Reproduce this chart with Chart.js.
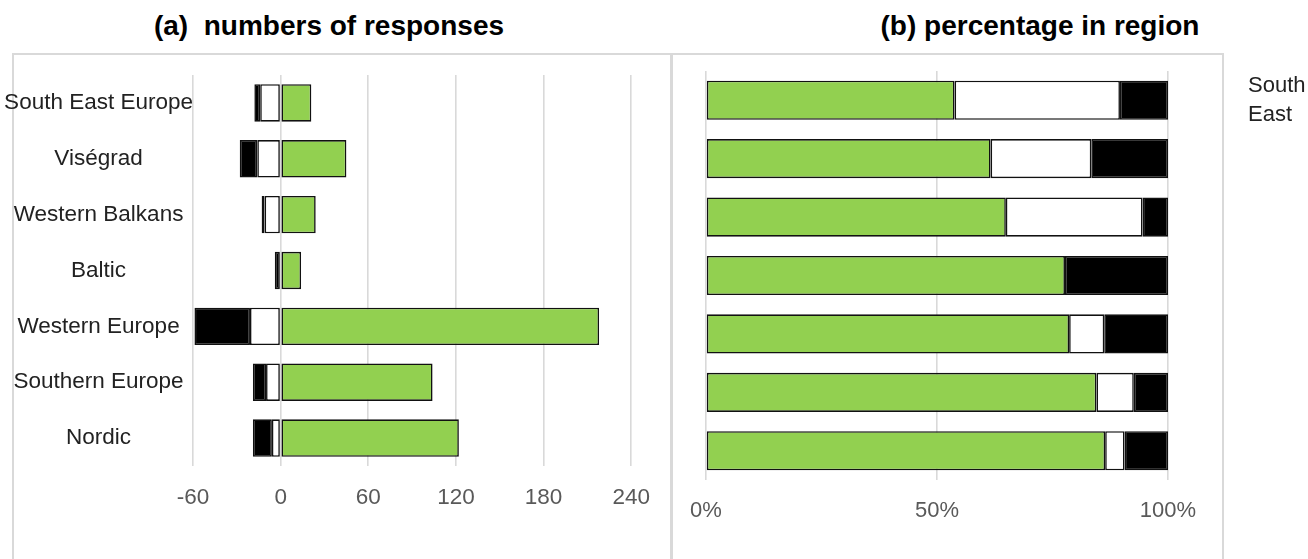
<!DOCTYPE html>
<html>
<head>
<meta charset="utf-8">
<title>Responses by region</title>
<script src="https://cdn.jsdelivr.net/npm/chart.js@4.4.1/dist/chart.umd.min.js"></script>
<style>
  html, body { margin: 0; padding: 0; background: #fff; }
  body { width: 1308px; height: 559px; position: relative; overflow: hidden; font-family: "Liberation Sans", Arial, sans-serif; }
  .box { position: absolute; top: 53px; height: 560px; border: 2px solid #d9d9d9; box-sizing: border-box; }
  .title { position: absolute; top: 12px; font-weight: bold; font-size: 28px; line-height: 28px; text-align: center; white-space: pre; color: #000; }
  .wrap { position: absolute; top: 0; height: 559px; }
</style>
</head>
<body>
  <div class="box" style="left:12px; width:661px;"></div>
  <div class="box" style="left:670px; width:554px;"></div>
  <div class="title" style="left:0; width:658px;">(a)  numbers of responses</div>
  <div class="title" style="left:780px; width:520px;">(b) percentage in region</div>
  <div class="wrap" style="left:0; width:668px;"><canvas id="countChart"></canvas></div>
  <div class="wrap" style="left:672px; width:636px;"><canvas id="pctChart"></canvas></div>

<script>
const regions = ['South East Europe', 'Viségrad', 'Western Balkans', 'Baltic', 'Western Europe', 'Southern Europe', 'Nordic'];

// (a) counts, white/black drawn to the left of zero
const greenCounts = [21, 45, 24, 14, 218, 104, 122];
const whiteCounts = [-14, -16, -11, 0, -21, -10, -6];
const blackCounts = [-4, -12, -2, -4, -38, -9, -13];

// (b) share of each region, in %
const greenPct = [53.8, 61.6, 64.9, 77.7, 78.6, 84.5, 86.4];
const whitePct = [35.8, 21.8, 29.6, 0, 7.6, 8.1, 4.2];
const blackPct = [10.4, 16.6, 5.5, 22.3, 13.8, 7.4, 9.4];

const countTicks = [-60, 0, 60, 120, 180, 240];
const pctTicks = [0, 50, 100];

Chart.defaults.font.family = "'Liberation Sans', Arial, sans-serif";
Chart.defaults.animation = false;

const GREEN = '#92d050';
const EDGE = '#111111';
const GRID = '#d9d9d9';

function makeSets(g, w, b) {
  const base = { borderColor: EDGE, borderWidth: 1.6, borderSkipped: false, categoryPercentage: 0.67, barPercentage: 1 };
  return [
    { ...base, label: 'green', data: g, backgroundColor: GREEN },
    { ...base, label: 'white', data: w, backgroundColor: '#ffffff' },
    { ...base, label: 'black', data: b, backgroundColor: '#000000' }
  ];
}

const noPlugins = { legend: { display: false }, tooltip: { enabled: false }, title: { display: false } };

// (a) numbers of responses
new Chart(document.getElementById('countChart'), {
  type: 'bar',
  data: { labels: regions, datasets: makeSets(greenCounts, whiteCounts, blackCounts) },
  options: {
    indexAxis: 'y',
    responsive: true,
    maintainAspectRatio: false,
    layout: { padding: { top: 75, right: 31, bottom: 0, left: 0 } },
    plugins: noPlugins,
    scales: {
      x: {
        stacked: true,
        min: countTicks[0],
        max: countTicks[countTicks.length - 1],
        afterBuildTicks: (s) => { s.ticks = countTicks.map(v => ({ value: v })); },
        afterFit: (s) => { s.height = 93; },
        grid: { color: GRID, lineWidth: 1.6, drawTicks: false },
        border: { display: false },
        ticks: { color: '#595959', padding: 18, font: { size: 22.5 } }
      },
      y: {
        stacked: true,
        afterFit: (s) => { s.width = 193; },
        grid: { display: false, drawTicks: false },
        border: { display: false },
        ticks: { color: '#222', autoSkip: false, crossAlign: 'center', padding: 0, font: { size: 22.5 } }
      }
    }
  }
});

// (b) percentage in region
new Chart(document.getElementById('pctChart'), {
  type: 'bar',
  data: { labels: regions, datasets: makeSets(greenPct, whitePct, blackPct) },
  options: {
    indexAxis: 'y',
    responsive: true,
    maintainAspectRatio: false,
    layout: { padding: { top: 71, right: 0, bottom: 0, left: 34 } },
    plugins: noPlugins,
    scales: {
      x: {
        stacked: true,
        min: pctTicks[0],
        max: pctTicks[pctTicks.length - 1],
        afterBuildTicks: (s) => { s.ticks = pctTicks.map(v => ({ value: v })); },
        afterFit: (s) => { s.height = 79; },
        grid: { color: GRID, lineWidth: 1.6, drawTicks: false },
        border: { display: false },
        ticks: { color: '#595959', padding: 18, font: { size: 22 }, callback: (v) => v + '%' }
      },
      y: {
        stacked: true,
        position: 'right',
        afterFit: (s) => { s.width = 140; },
        // hidden tick marks only push the label away from the bars
        grid: { display: false, drawTicks: true, tickLength: 80 },
        border: { display: false },
        // only the first region label shows on the right, cut off after two words
        ticks: {
          color: '#222', autoSkip: false, padding: 0, font: { size: 22, lineHeight: 1.32 },
          callback: (v, i) => i === 0 ? regions[0].split(' ').slice(0, 2) : ''
        }
      }
    }
  }
});
</script>
</body>
</html>
